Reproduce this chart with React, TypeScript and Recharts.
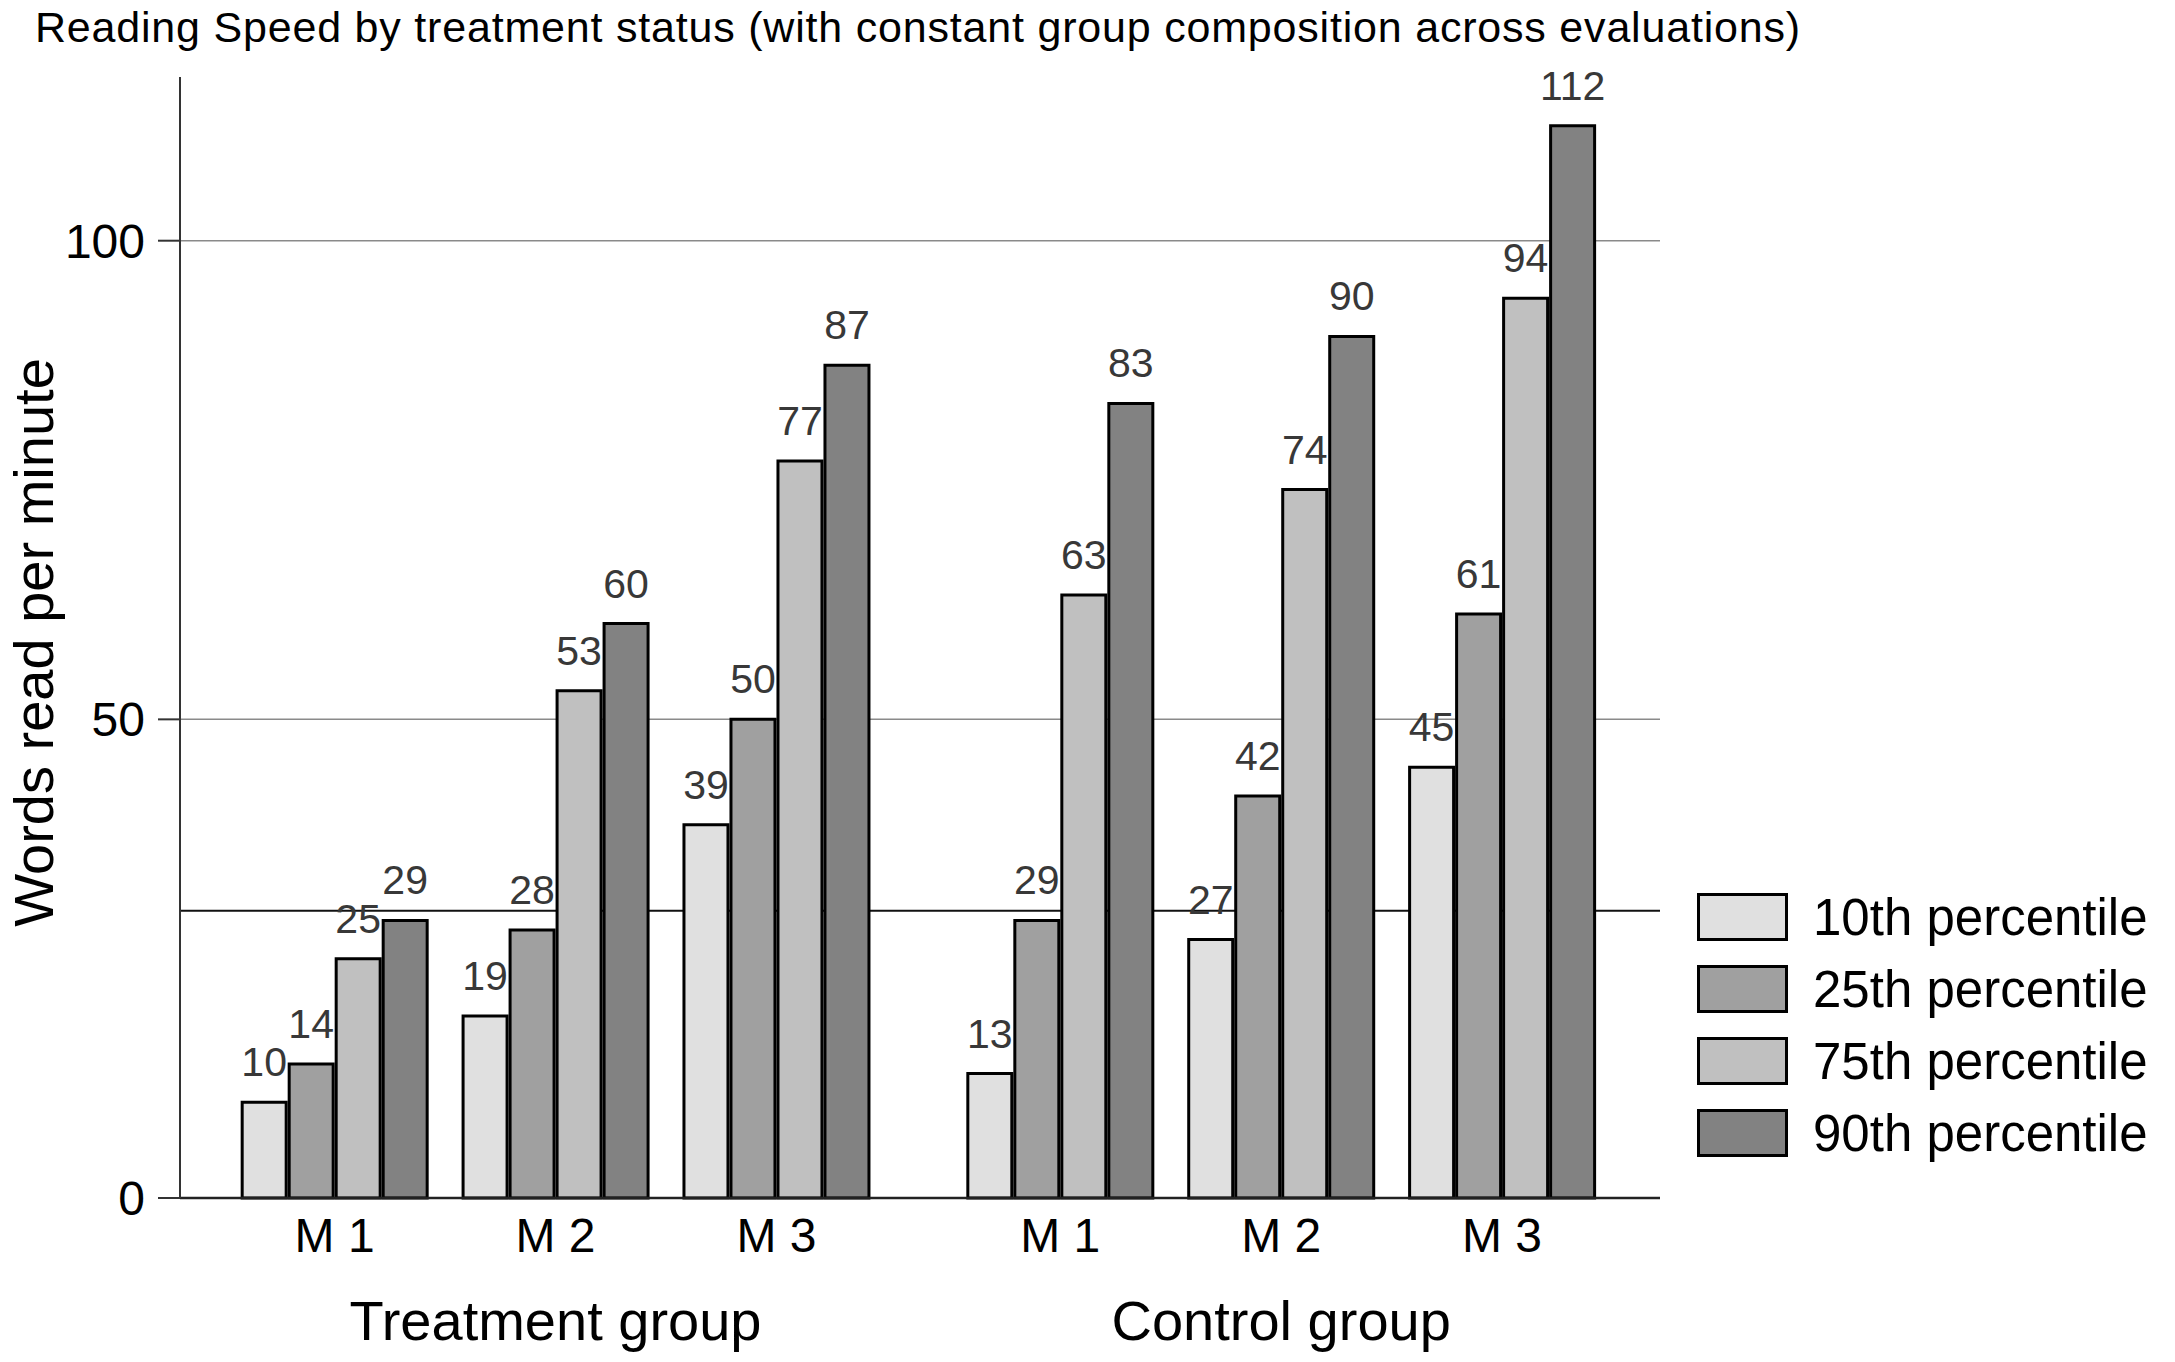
import React from 'react';
import {
  Bar,
  BarChart,
  Label,
  LabelList,
  Legend,
  ReferenceLine,
  XAxis,
  YAxis,
} from 'recharts';

const groups = ['Treatment group', 'Control group'];
const measurements = ['M 1', 'M 2', 'M 3'];

// one value per group x measurement, treatment first
const p10 = [10, 19, 39, 13, 27, 45];
const p25 = [14, 28, 50, 29, 42, 61];
const p75 = [25, 53, 77, 63, 74, 94];
const p90 = [29, 60, 87, 83, 90, 112];

const yTicks = [0, 50, 100];
const gridValues = [50, 100];
const refValue = 30;

const series = [
  { key: 'p10', name: '10th percentile', fill: '#e0e0e0', values: p10 },
  { key: 'p25', name: '25th percentile', fill: '#a0a0a0', values: p25 },
  { key: 'p75', name: '75th percentile', fill: '#c0c0c0', values: p75 },
  { key: 'p90', name: '90th percentile', fill: '#828282', values: p90 },
];

// extra space between the two groups, in category units
const groupGap = 0.285;

const rows = groups.flatMap((g, gi) =>
  measurements.map((m, mi) => {
    const i = gi * measurements.length + mi;
    const row: Record<string, any> = {
      pos: gi * (measurements.length + groupGap) + mi,
      label: m,
      group: g,
    };
    series.forEach((s) => {
      row[s.key] = s.values[i];
    });
    return row;
  }),
);

const tickPositions = rows.map((r) => r.pos);
const groupPositions = groups.map((_, gi) => gi * (measurements.length + groupGap) + (measurements.length - 1) / 2);

const FONT = '"Liberation Sans", Arial, sans-serif';

const labelAt = (v: number) => rows.find((r) => Math.abs(r.pos - v) < 1e-6)?.label ?? '';
const groupAt = (v: number) => {
  const gi = groupPositions.findIndex((p) => Math.abs(p - v) < 1e-6);
  return gi >= 0 ? groups[gi] : '';
};

const renderYLabel = (props: any) => {
  const vb = props.viewBox;
  const x = 53;
  const y = vb.y + vb.height / 2 + 5;
  return (
    <text
      x={x}
      y={y}
      transform={`rotate(-90 ${x} ${y})`}
      textAnchor="middle"
      fontSize={56}
      fontFamily={FONT}
      fill="#000"
    >
      Words read per minute
    </text>
  );
};

const renderLegend = (props: any) => (
  <div>
    {(props.payload || []).map((e: any) => (
      <div key={e.value} style={{ display: 'flex', alignItems: 'center', height: 72 }}>
        <div
          style={{
            width: 91,
            height: 48,
            boxSizing: 'border-box',
            border: '3px solid #000',
            background: e.color,
          }}
        />
        <span style={{ marginLeft: 25, fontSize: 51, fontFamily: FONT, color: '#000', lineHeight: 1 }}>
          {e.value}
        </span>
      </div>
    ))}
  </div>
);

export default function App() {
  return (
    <div style={{ position: 'absolute', left: 0, top: 0, width: 2175, height: 1362, background: '#fff' }}>
      <div
        style={{
          position: 'absolute',
          left: 35,
          top: 6,
          fontSize: 43,
          letterSpacing: 0.8,
          lineHeight: '43px',
          fontFamily: FONT,
          color: '#000',
          whiteSpace: 'nowrap',
        }}
      >
        Reading Speed by treatment status (with constant group composition across evaluations)
      </div>
      <BarChart
        width={2175}
        height={1362}
        data={rows}
        margin={{ top: 77, right: 515, left: 0, bottom: 0 }}
        barGap={3}
      >
        {gridValues.map((v) => (
          <ReferenceLine key={v} y={v} stroke="#8a8a8a" strokeWidth={1.5} zIndex={-50} />
        ))}
        <ReferenceLine y={refValue} stroke="#111" strokeWidth={2} zIndex={-50} />
        <XAxis
          dataKey="pos"
          type="number"
          domain={[-0.7, 6.0]}
          ticks={tickPositions}
          interval={0}
          tickFormatter={labelAt}
          height={70}
          tickLine={false}
          tickSize={0}
          tickMargin={20}
          stroke="#222"
          strokeWidth={2.5}
          tick={{ fontSize: 48, fill: '#000', fontFamily: FONT }}
        />
        <XAxis
          xAxisId="group"
          dataKey="pos"
          type="number"
          domain={[-0.7, 6.0]}
          ticks={groupPositions}
          interval={0}
          tickFormatter={groupAt}
          height={94}
          axisLine={false}
          tickLine={false}
          tickSize={0}
          tickMargin={32}
          tick={{ fontSize: 56, fill: '#000', fontFamily: FONT }}
        />
        <YAxis
          type="number"
          domain={[0, 117.1]}
          ticks={yTicks}
          interval={0}
          width={180}
          tickSize={22}
          tickMargin={13}
          stroke="#333"
          strokeWidth={2}
          tick={{ fontSize: 48, fill: '#000', fontFamily: FONT }}
        >
          <Label content={renderYLabel} />
        </YAxis>
        <Legend
          layout="vertical"
          align="center"
          verticalAlign="middle"
          wrapperStyle={{ left: 1697, top: 881, width: 470 }}
          content={renderLegend}
        />
        {series.map((s) => (
          <Bar
            key={s.key}
            dataKey={s.key}
            name={s.name}
            fill={s.fill}
            stroke="#000"
            strokeWidth={3}
            barSize={44}
            isAnimationActive={false}
          >
            <LabelList
              dataKey={s.key}
              position="top"
              offset={26}
              fill="#383838"
              fontSize={41}
              fontFamily={FONT}
            />
          </Bar>
        ))}
      </BarChart>
    </div>
  );
}
